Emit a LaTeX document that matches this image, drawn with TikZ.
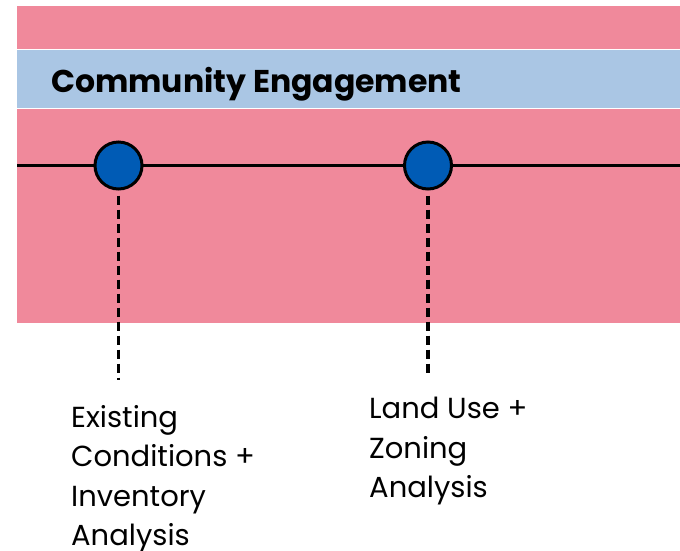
\documentclass[tikz,border=0pt]{standalone}
\usepackage{fontspec}
\setmainfont{Poppins}
\usepackage{xcolor}
\usetikzlibrary{positioning,calc}
\definecolor{bandpink}{RGB}{240,137,155}
\definecolor{bandblue}{RGB}{170,198,228}
\definecolor{dotblue}{RGB}{0,91,181}

\tikzset{
  milestone/.style={circle, draw=black, line width=3pt, fill=dotblue, minimum size=47pt, inner sep=0pt},
  leader/.style={line width=3.2pt, dash pattern=on 9pt off 5pt},
  steplabel/.style={align=left, anchor=north west, inner sep=0pt, font=\fontsize{29}{39.5}\selectfont},
}

\begin{document}
\begin{tikzpicture}[x=1pt, y=-1pt]
  \useasboundingbox (0,0) rectangle (680,550);
  \fill[bandpink] (17,6) rectangle (680,323);
  \fill[white] (17,49) rectangle (680,109);
  \fill[bandblue] (17,50) rectangle (680,108);

  \node[anchor=base west, inner sep=0pt, font=\bfseries\fontsize{31.5}{36}\selectfont] (title) at (51,92.5) {Community Engagement};

  % timeline
  \coordinate (tl-start) at (17,165.5);
  \coordinate (tl-end) at (680,165.5);
  \draw[line width=3pt] (tl-start) -- (tl-end);

  \node[milestone] (m1) at (118.5,165.5) {};
  \node[milestone] (m2) at (428,165.5) {};

  \coordinate (end1) at (118.5,380);
  \coordinate (end2) at (428,374);
  \draw[leader] ([yshift=-5pt]m1.south) -- (end1);
  \draw[leader] ([yshift=-5pt]m2.south) -- (end2);

  \node[steplabel] (lab1) at (71,405) {Existing\\Conditions +\\Inventory\\Analysis};
  \node[steplabel] (lab2) at (369,397) {Land Use +\\Zoning\\Analysis};
\end{tikzpicture}
\end{document}
